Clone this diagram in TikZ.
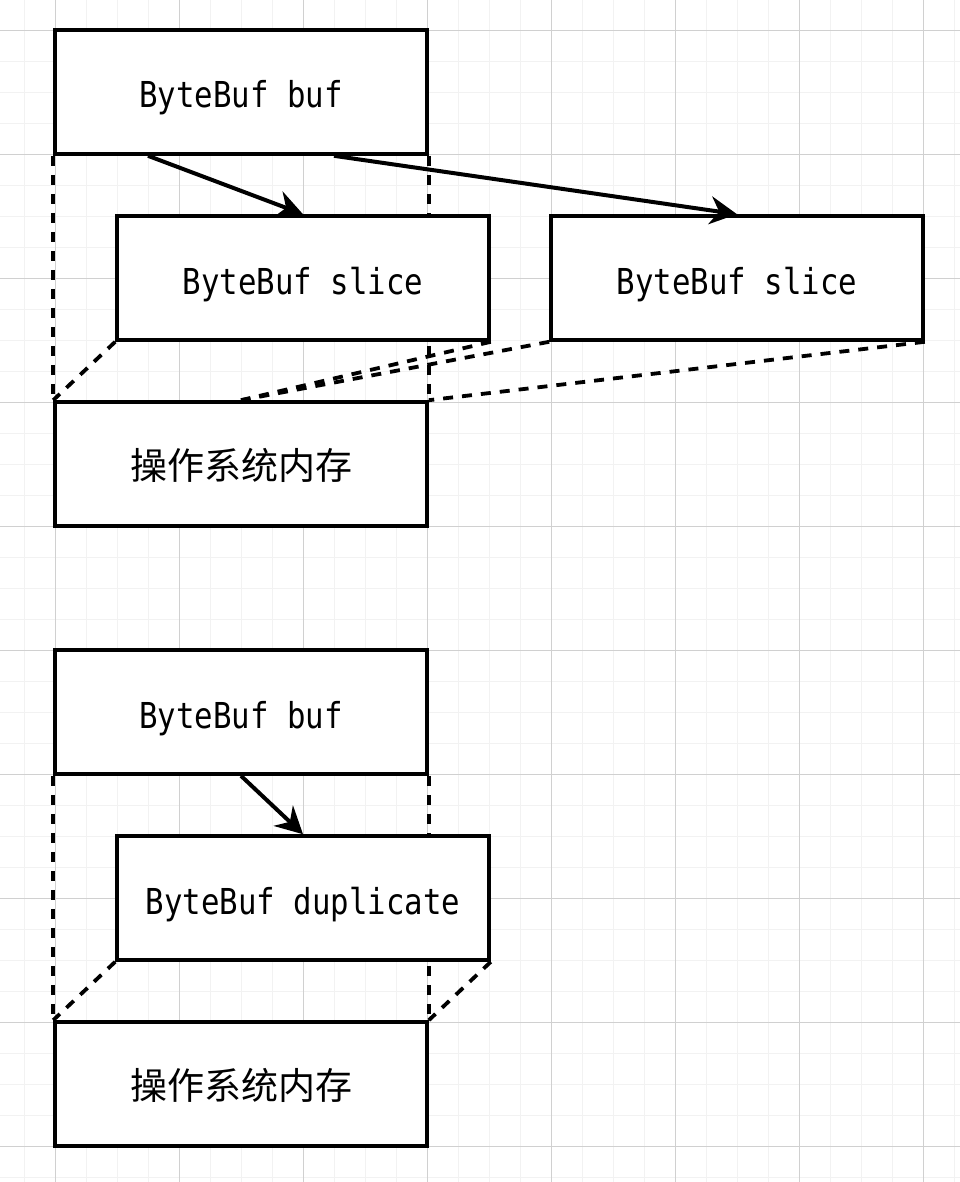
\documentclass[tikz,border=0pt]{standalone}
\usepackage{fontspec}
\setmonofont[FakeStretch=0.86]{DejaVu Sans Mono}
\newfontfamily\cjk{Noto Sans CJK SC}
\usepackage{tikz}
\usetikzlibrary{arrows.meta, backgrounds}
\definecolor{gridminor}{HTML}{F2F2F2}
\definecolor{gridmajor}{HTML}{D0D0D0}
\tikzset{
    buffers/.style={
        x=1pt, y=-1pt,
        buffer/.style={draw, line width=3.6pt, fill=white, inner sep=0pt,
            minimum width=372pt, minimum height=124pt,
            text height=32pt, text depth=0pt,
            font=\ttfamily\fontsize{35.7}{40}\selectfont},
        memory/.style={buffer, text height=30pt, text depth=0pt,
            font=\cjk\fontsize{37}{42}\selectfont},
        minorline/.style={gridminor, line width=1pt},
        majorline/.style={gridmajor, line width=1pt},
    },
    viewline/.style={line width=3.8pt, dash pattern=on 10pt off 9pt},
    bufarrow/.style={line width=4pt, -{Stealth[length=27pt, width=28pt, inset=9pt]}},
}

\begin{document}
\begin{tikzpicture}[buffers]
    \useasboundingbox (0,0) rectangle (960,1182);

    % slice
    \node[buffer] (buf)    at (241,92)  {ByteBuf buf};
    \node[buffer] (slice1) at (303,278) {ByteBuf slice};
    \node[buffer] (slice2) at (737,278) {ByteBuf slice};
    \node[memory] (mem)    at (241,464) {操作系统内存};

    % duplicate
    \node[buffer] (dupbuf) at (241,712)  {ByteBuf buf};
    \node[buffer] (dup)    at (303,898)  {ByteBuf duplicate};
    \node[memory] (dupmem) at (241,1084) {操作系统内存};

    \begin{scope}[on background layer]
        \fill[white] (0,0) rectangle (960,1182);
        \foreach \i in {0,...,31}
            \draw[minorline] ({24.3+31*\i},0) -- ++(0,1182);
        \foreach \j in {0,...,38}
            \draw[minorline] (0,{-0.7+31*\j}) -- ++(960,0);
        \foreach \i in {0,...,7}
            \draw[majorline] ({55.3+124*\i},0) -- ++(0,1182);
        \foreach \j in {0,...,9}
            \draw[majorline] (0,{30.3+124*\j}) -- ++(960,0);

        \draw[viewline] (buf.south west) -- (mem.north west);
        \draw[viewline] (buf.south east) -- (mem.north east);
        \draw[viewline] (slice1.south west) -- (mem.north west);
        \draw[viewline] (slice1.south east) -- (mem.north);
        \draw[viewline] (slice2.south west) -- (mem.north);
        \draw[viewline] (slice2.south east) -- (mem.north east);

        \draw[viewline] (dupbuf.south west) -- (dupmem.north west);
        \draw[viewline] (dupbuf.south east) -- (dupmem.north east);
        \draw[viewline] (dup.south west) -- (dupmem.north west);
        \draw[viewline] (dup.south east) -- (dupmem.north east);
    \end{scope}

    \draw[bufarrow] ([xshift=-93pt]buf.south) -- (slice1.north);
    \draw[bufarrow] ([xshift=93pt]buf.south) -- (slice2.north);
    \draw[bufarrow] (dupbuf.south) -- (dup.north);
\end{tikzpicture}
\end{document}
